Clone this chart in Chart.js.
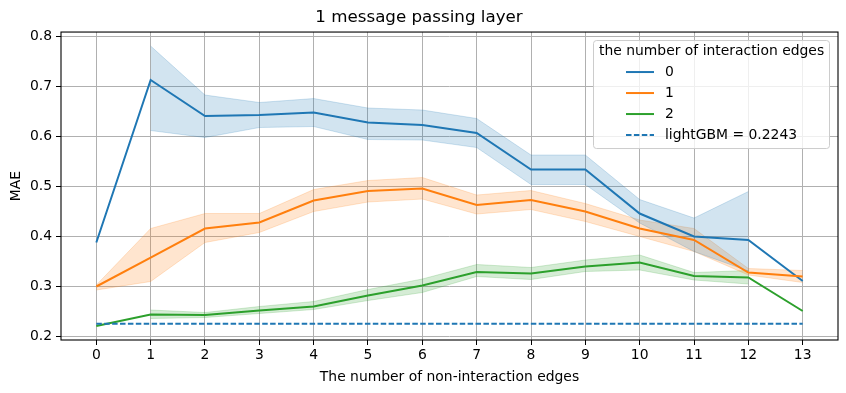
<!DOCTYPE html>
<html>
<head>
<meta charset="utf-8">
<script src="https://cdn.jsdelivr.net/npm/chart.js@4/dist/chart.umd.min.js"></script>
<style>
html,body{margin:0;padding:0;background:#fff;}
#wrap{width:846px;height:393px;}
</style>
</head>
<body>
<div id="wrap"><canvas id="c" width="846" height="393"></canvas></div>
<script>
const xCats = [0,1,2,3,4,5,6,7,8,9,10,11,12,13];
const yTicks = [0.2,0.3,0.4,0.5,0.6,0.7,0.8];
const seriesNames = ['0','1','2'];
const mae0 = [0.387,0.712,0.640,0.642,0.647,0.627,0.622,0.606,0.533,0.533,0.445,0.399,0.392,0.310];
const lo0  = [null,0.611,0.597,0.617,0.619,0.593,0.592,0.577,0.503,0.503,0.426,0.369,0.330,null];
const hi0  = [null,0.780,0.682,0.667,0.675,0.656,0.652,0.635,0.562,0.562,0.473,0.436,0.489,null];
const mae1 = [0.299,0.357,0.415,0.427,0.471,0.490,0.495,0.462,0.472,0.449,0.415,0.392,0.327,0.319];
const lo1  = [0.292,0.309,0.387,0.407,0.449,0.468,0.474,0.444,0.453,0.429,0.399,0.369,0.322,0.307];
const hi1  = [0.302,0.415,0.445,0.445,0.493,0.511,0.517,0.482,0.491,0.465,0.432,0.415,0.335,0.331];
const mae2 = [0.220,0.243,0.242,0.251,0.259,0.281,0.301,0.328,0.325,0.339,0.347,0.320,0.317,0.250];
const lo2  = [null,0.235,0.237,0.245,0.253,0.271,0.287,0.319,0.313,0.329,0.332,0.312,0.304,null];
const hi2  = [null,0.252,0.247,0.259,0.269,0.293,0.314,0.343,0.337,0.352,0.362,0.327,0.331,null];
const lightGBM = 0.2243;
const lightGBMLabel = 'lightGBM = 0.2243';
const legendTitle = 'the number of interaction edges';

const colors = ['#1f77b4','#ff7f0e','#2ca02c'];
const bandColors = ['rgba(31,119,180,0.2)','rgba(255,127,14,0.2)','rgba(44,160,44,0.2)'];
const FONT = 'DejaVu Sans';

function pts(arr){ return xCats.map((x,i)=>arr[i]==null?null:{x:x,y:arr[i]}).filter(p=>p); }

const means=[mae0,mae1,mae2], los=[lo0,lo1,lo2], his=[hi0,hi1,hi2];
const datasets=[];
for(let s=0;s<3;s++){
  datasets.push({label:seriesNames[s],data:pts(means[s]),borderColor:colors[s],backgroundColor:colors[s],
    borderWidth:2,pointRadius:0,fill:false,order:3-s,isLegend:true});
}
datasets.push({label:lightGBMLabel,data:xCats.map(x=>({x:x,y:lightGBM})),borderColor:'#1f77b4',
  borderWidth:2,borderDash:[5.5,2.4],pointRadius:0,fill:false,order:0,isLegend:true,dashed:true});
for(let s=0;s<3;s++){
  const lowIdx = datasets.length+1;
  datasets.push({label:'hi'+s,data:pts(his[s]),borderColor:bandColors[s],borderWidth:1,pointRadius:0,
    backgroundColor:bandColors[s],fill:{target:lowIdx},order:10+s});
  datasets.push({label:'lo'+s,data:pts(los[s]),borderColor:bandColors[s],borderWidth:1,pointRadius:0,
    fill:false,order:10+s});
}

const framePlugin={
  id:'frameLegend',
  afterDraw(chart){
    const ctx=chart.ctx, a=chart.chartArea;
    ctx.save();
    ctx.strokeStyle='#000';ctx.lineWidth=1.1;
    ctx.strokeRect(a.left,a.top,a.right-a.left,a.bottom-a.top);
    const w=236,h=108;
    const lx=a.right-9-w, ly=a.top+8;
    ctx.fillStyle='rgba(255,255,255,0.8)';
    ctx.strokeStyle='#cccccc';ctx.lineWidth=1;
    ctx.beginPath();
    if(ctx.roundRect) ctx.roundRect(lx+0.5,ly+0.5,w,h,3); else ctx.rect(lx+0.5,ly+0.5,w,h);
    ctx.fill();ctx.stroke();
    ctx.font='13.9px "'+FONT+'"';
    ctx.fillStyle='#000';ctx.textBaseline='middle';ctx.textAlign='left';
    ctx.fillText(legendTitle,lx+6,ly+11);
    const items=chart.data.datasets.filter(d=>d.isLegend);
    items.forEach((d,i)=>{
      const y=ly+32+i*21;
      ctx.strokeStyle=d.borderColor;ctx.lineWidth=2;
      ctx.setLineDash(d.dashed?[5.5,2.4]:[]);
      ctx.beginPath();ctx.moveTo(lx+33,y);ctx.lineTo(lx+61,y);ctx.stroke();
      ctx.setLineDash([]);
      ctx.fillStyle='#000';
      ctx.fillText(d.label,lx+72,y);
    });
    ctx.restore();
  }
};

new Chart(document.getElementById('c'),{
  type:'line',
  data:{datasets:datasets},
  plugins:[framePlugin],
  options:{
    responsive:false,animation:false,
    layout:{padding:{left:0,right:8,top:0,bottom:0}},
    plugins:{
      legend:{display:false},
      tooltip:{enabled:false},
      title:{display:true,text:'1 message passing layer',color:'#000',
        font:{family:FONT,size:16.7,weight:'normal'},padding:{top:8,bottom:4}}
    },
    scales:{
      x:{type:'linear',min:-0.65,max:13.65,
        afterBuildTicks(s){s.ticks=xCats.map(v=>({value:v}));},
        afterFit(s){s.height=53;},
        grid:{color:'#b0b0b0',lineWidth:1,tickColor:'#000',tickLength:5,drawOnChartArea:true},
        border:{display:false},
        ticks:{color:'#000',font:{family:FONT,size:13.9},padding:2,maxRotation:0,autoSkip:false,
          callback:v=>String(v)},
        title:{display:true,text:'The number of non-interaction edges',color:'#000',
          font:{family:FONT,size:13.9},padding:{top:0,bottom:7}}
      },
      y:{type:'linear',min:0.192,max:0.808,
        afterBuildTicks(s){s.ticks=yTicks.map(v=>({value:v}));},
        afterFit(s){s.width=61;},
        grid:{color:'#b0b0b0',lineWidth:1,tickColor:'#000',tickLength:5},
        border:{display:false},
        ticks:{color:'#000',font:{family:FONT,size:13.9},padding:4,
          callback:v=>Number(v).toFixed(1)},
        title:{display:true,text:'MAE',color:'#000',font:{family:FONT,size:13.9},padding:{top:8,bottom:0}}
      }
    }
  }
});
</script>
</body>
</html>
